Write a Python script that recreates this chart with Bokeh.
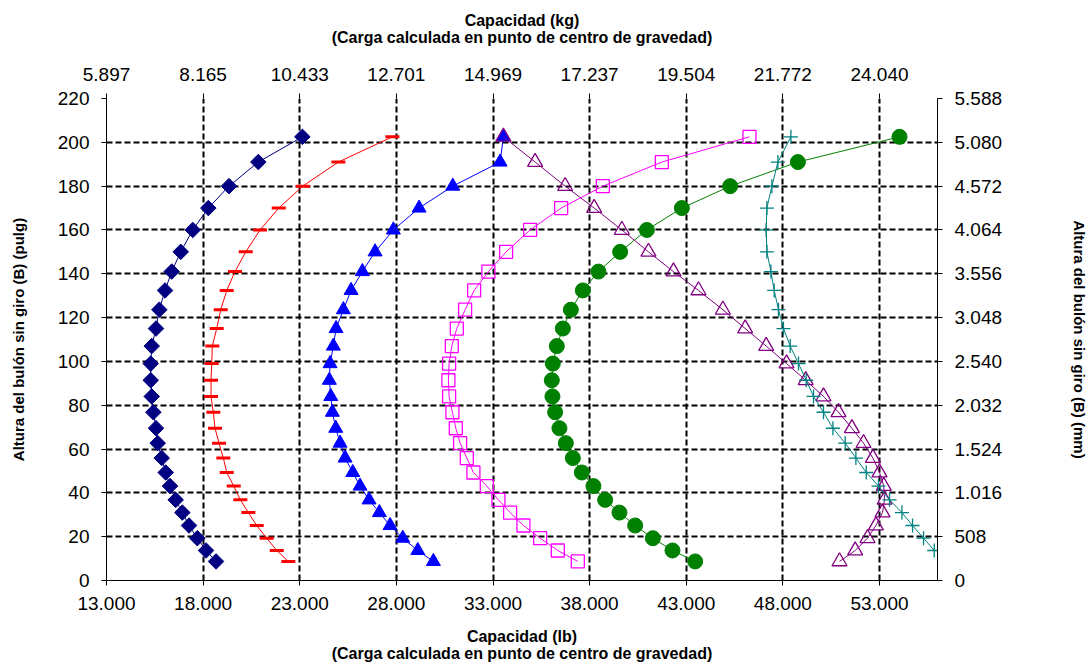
from bokeh.plotting import figure
from bokeh.models import Range1d, LinearAxis, FixedTicker
from bokeh.embed import file_html
from bokeh.resources import INLINE

# ---------------- data ----------------
altura_pulg = [8.7, 13.7, 19.3, 25.1, 31.0, 36.8, 43.1, 49.3, 55.9, 62.7, 69.5, 76.8, 84.0,
               91.4, 99.0, 107.0, 115.0, 123.6, 132.4, 141.0, 150.0, 160.0, 170.0, 180.0,
               191.0, 202.5]

serie_rombo = [18668, 18150, 17700, 17270, 16924, 16580, 16287, 16064, 15857, 15650, 15562,
               15424, 15340, 15290, 15290, 15340, 15562, 15733, 16028, 16375, 16841, 17462,
               18269, 19340, 20857, 23135]
serie_guion = [22410, 21810, 21292, 20774, 20340, 19925, 19584, 19222, 19046, 18823, 18616,
               18528, 18409, 18409, 18445, 18476, 18704, 18911, 19222, 19651, 20205, 20945,
               21913, 23155, 24998, 27793]
serie_triangulo = [29915, 29108, 28331, 27674, 27120, 26587, 26121, 25743, 25345, 25086, 24863,
                   24687, 24605, 24532, 24568, 24739, 24879, 25257, 25655, 26240, 26897, 27845,
                   29175, 30919, 33367, 33538]
serie_cuadro = [37389, 36354, 35438, 34573, 33885, 33280, 32679, 31986, 31644, 31297, 31075,
                30899, 30728, 30692, 30728, 30867, 31126, 31556, 32022, 32762, 33678, 34920,
                36525, 38683, 41737, 46271]
serie_circulo = [43460, 42286, 41271, 40355, 39542, 38802, 38197, 37596, 37130, 36768, 36437,
                 36214, 36075, 36043, 36095, 36302, 36613, 37027, 37648, 38455, 39579, 40961,
                 42772, 45272, 48776, 54035]
serie_tri_abierto = [50930, 51741, 52378, 52813, 53155, 53258, 53220, 53000, 52658, 52172, 51571,
                     50878, 50101, 49180, 48190, 47136, 46049, 44894, 43632, 42337, 41043, 39666,
                     38233, 36732, 35179, 33538]
altura_cruz = altura_pulg[1:]
serie_cruz = [55831, 55278, 54708, 54159, 53518, 52948, 52312, 51778, 51225, 50588, 50101,
              49584, 49206, 48808, 48378, 48031, 47772, 47550, 47379, 47172, 47136, 47172,
              47431, 47741, 48414]

ticks_lb = [13000, 18000, 23000, 28000, 33000, 38000, 43000, 48000, 53000]
labels_lb = ["13.000", "18.000", "23.000", "28.000", "33.000", "38.000", "43.000", "48.000", "53.000"]
labels_kg = ["5.897", "8.165", "10.433", "12.701", "14.969", "17.237", "19.504", "21.772", "24.040"]
ticks_pulg = [0, 20, 40, 60, 80, 100, 120, 140, 160, 180, 200, 220]
labels_mm = ["0", "508", "1.016", "1.524", "2.032", "2.540", "3.048", "3.556", "4.064",
             "4.572", "5.080", "5.588"]

FONT = "Liberation Sans"

p = figure(width=1092, height=668, output_backend="svg", toolbar_location=None,
           x_range=Range1d(13000, 56000), y_range=Range1d(0, 220),
           min_border_left=106, min_border_right=155, min_border_top=98, min_border_bottom=88)
p.outline_line_color = None
p.background_fill_color = "white"
p.border_fill_color = "white"

bottom = p.below[0]
left = p.left[0]

xt = FixedTicker(ticks=ticks_lb)
yt = FixedTicker(ticks=ticks_pulg)
bottom.ticker = xt
left.ticker = yt
p.xgrid.ticker = xt
p.ygrid.ticker = yt
for g in (p.xgrid, p.ygrid):
    g.grid_line_color = "black"
    g.grid_line_dash = "6 3"
    g.grid_line_width = 2

top = LinearAxis(ticker=FixedTicker(ticks=ticks_lb))
right = LinearAxis(ticker=FixedTicker(ticks=ticks_pulg))
p.add_layout(top, "above")
p.add_layout(right, "right")

bottom.major_label_overrides = {t: s for t, s in zip(ticks_lb, labels_lb)}
top.major_label_overrides = {t: s for t, s in zip(ticks_lb, labels_kg)}
right.major_label_overrides = {t: s for t, s in zip(ticks_pulg, labels_mm)}

bottom.axis_label = "Capacidad (lb)\n(Carga calculada en punto de centro de gravedad)"
top.axis_label = "Capacidad (kg)\n(Carga calculada en punto de centro de gravedad)"
left.axis_label = "Altura del bulón sin giro (B) (pulg)"
right.axis_label = "Altura del bulón sin giro (B) (mm)"

for ax in [bottom, top, left, right]:
    ax.axis_line_color = "black"
    ax.axis_line_width = 1
    ax.major_tick_out = 5
    ax.major_tick_in = 0
    ax.minor_tick_out = 0
    ax.minor_tick_in = 0
    ax.major_tick_line_color = "black"
    ax.major_label_text_font = FONT
    ax.major_label_text_font_size = "19px"
    ax.major_label_text_color = "black"
    ax.axis_label_text_font = FONT
    ax.axis_label_text_font_style = "bold"
    ax.axis_label_text_color = "black"
    ax.major_label_standoff = 8

top.axis_line_color = None
bottom.axis_label_text_font_size = "16px"
top.axis_label_text_font_size = "16px"
bottom.axis_label_text_line_height = 1.0
top.axis_label_text_line_height = 1.0
left.axis_label_text_font_size = "15px"
right.axis_label_text_font_size = "15px"
bottom.major_label_standoff = 11
top.major_label_standoff = 13
bottom.axis_label_standoff = 15
top.axis_label_standoff = 19
left.major_label_standoff = 12
right.major_label_standoff = 12
left.axis_label_standoff = 28
right.axis_label_standoff = 66

# ---------------- series ----------------
p.line(serie_rombo, altura_pulg, line_color="#000080", line_width=1)
p.scatter(serie_rombo, altura_pulg, marker="square", angle=0.785398, size=11,
          fill_color="#000080", line_color="#000080")

p.line(serie_guion, altura_pulg, line_color="#FF0000", line_width=1)
p.scatter(serie_guion, altura_pulg, marker="dash", size=14, line_width=3, line_color="#FF0000")

p.line(serie_triangulo, altura_pulg, line_color="#0000FF", line_width=1)
p.scatter(serie_triangulo, altura_pulg, marker="triangle", size=14,
          fill_color="#0000FF", line_color="#0000FF")

p.line(serie_cuadro, altura_pulg, line_color="#FF00FF", line_width=1)
p.scatter(serie_cuadro, altura_pulg, marker="square", size=13, fill_color=None,
          line_color="#FF00FF", line_width=1.3)

p.line(serie_circulo, altura_pulg, line_color="#008000", line_width=1)
p.scatter(serie_circulo, altura_pulg, marker="circle", size=15,
          fill_color="#008000", line_color="#008000")

p.line(serie_tri_abierto, altura_pulg, line_color="#800080", line_width=1)
p.scatter(serie_tri_abierto, altura_pulg, marker="triangle", size=15, fill_color=None,
          line_color="#800080", line_width=1.3)

p.line(serie_cruz, altura_cruz, line_color="#008080", line_width=1)
p.scatter(serie_cruz, altura_cruz, marker="cross", size=14, line_color="#008080", line_width=1.3)

open("out.html", "w").write(file_html(p, INLINE))
